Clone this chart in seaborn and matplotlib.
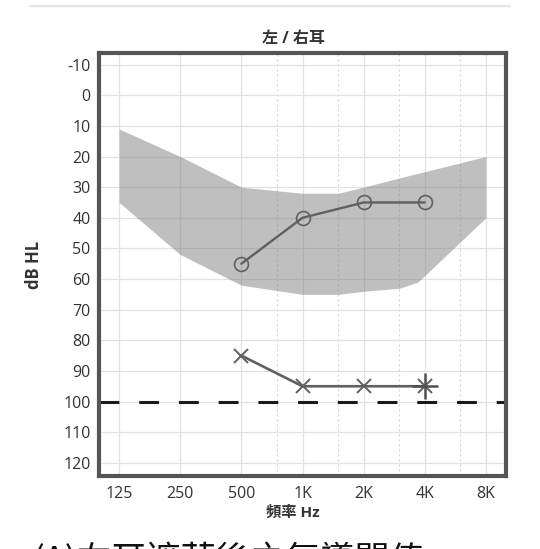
import matplotlib
matplotlib.use("Agg")
import matplotlib.pyplot as plt
import seaborn as sns
import pandas as pd
import numpy as np
from matplotlib.lines import Line2D

# ---------------- data ----------------
freq_ticks = [125, 250, 500, 1000, 2000, 4000, 8000]
freq_labels = ["125", "250", "500", "1K", "2K", "4K", "8K"]
half_octaves = [750, 1500, 3000, 6000]
db_ticks = list(range(-10, 130, 10))

band_freq = [125, 250, 500, 1000, 1500, 2000, 3000, 3700, 8000]
band_top = [11, 20, 30, 32, 32, 30, 27, 25.5, 20]
band_bottom = [35, 52, 62, 65, 65, 64, 63, 61, 40]

air_freq = [500, 1000, 2000, 4000]
air_db = [55, 40, 35, 35]

masked_freq = [500, 1000, 2000, 4000]
masked_db = [85, 95, 95, 95]

limit_db = 100

title = "左 / 右耳"
xlabel = "頻率 Hz"
ylabel = "dB HL"
caption = "(A)右耳遮蔽後之氣導閾值"

# ---------------- style ----------------
sns.set_theme(style="white")
plt.rcParams["font.family"] = ["Open Sans", "Noto Sans CJK TC", "DejaVu Sans"]

W, H = 540, 549
fig = plt.figure(figsize=(W / 100, H / 100), dpi=100)
L, R, T, B = 99, 506, 53, 476
ax = fig.add_axes([L / W, 1 - B / H, (R - L) / W, (B - T) / H])

ax.set_xscale("log", base=2)
ax.set_xlim(125 * 2 ** -0.33, 8000 * 2 ** 0.33)
ax.set_ylim(124.3, -13.8)

# grid
for f in freq_ticks:
    ax.axvline(f, color="#e2e2e2", lw=0.9, zorder=0)
for f in half_octaves:
    ax.axvline(f, color="#d6d6d6", lw=0.8, ls=(0, (2, 2.5)), zorder=0)
for d in db_ticks:
    ax.axhline(d, color="#e2e2e2", lw=0.9, zorder=0)

# normal band
ax.fill_between(band_freq, band_top, band_bottom, color="#808080",
                alpha=0.5, lw=0, zorder=1)

line_col = "#606060"
df_air = pd.DataFrame({"freq": air_freq, "db": air_db})
sns.lineplot(data=df_air, x="freq", y="db", ax=ax, color=line_col, lw=1.7,
             marker="o", markersize=10, markerfacecolor="none",
             markeredgecolor=line_col, markeredgewidth=1.2, zorder=3)

df_mask = pd.DataFrame({"freq": masked_freq, "db": masked_db})
sns.lineplot(data=df_mask, x="freq", y="db", ax=ax, color=line_col, lw=1.9,
             marker="x", markersize=10, markeredgecolor=line_col,
             markeredgewidth=1.4, zorder=3)
ax.plot(masked_freq[-1:], masked_db[-1:], marker="+", markersize=19,
        color="#505050", markeredgewidth=1.8, ls="none", zorder=4)

ax.axhline(limit_db, color="#1a1a1a", lw=2.2, ls=(0, (6.5, 6.5)), zorder=2)

# ticks
ax.set_xticks(freq_ticks)
ax.set_xticklabels(freq_labels)
ax.xaxis.set_minor_locator(matplotlib.ticker.NullLocator())
ax.set_yticks(db_ticks)
ax.set_yticklabels([str(d) for d in db_ticks])
ax.tick_params(axis="both", length=0, labelsize=11.5, colors="#333333")
ax.tick_params(axis="y", pad=6)
ax.tick_params(axis="x", pad=7)

ax.set_xlabel(xlabel, fontsize=11, fontweight="bold", color="#333333")
ax.xaxis.set_label_coords((293 - L) / (R - L), -0.07)
ax.set_ylabel(ylabel, fontsize=12, fontweight="bold", color="#333333")
ax.yaxis.set_label_coords(-(L - 43) / (R - L), 0.5)
ax.set_title(title, fontsize=11.5, fontweight="bold", color="#333333",
             x=(293 - L) / (R - L), pad=7)

for s in ax.spines.values():
    s.set_visible(True)
    s.set_color("#555555")
    s.set_linewidth(3)

# page decoration
fig.add_artist(Line2D([30 / W, 510 / W], [1 - 6 / H, 1 - 6 / H],
                      color="#e6e6e6", lw=1.5))
fig.text(33 / W, 1 - 571 / H, caption, fontsize=25, color="#111111",
         family=["Noto Sans CJK TC", "DejaVu Sans"], ha="left", va="baseline")

fig.savefig("out.png", dpi=100)
